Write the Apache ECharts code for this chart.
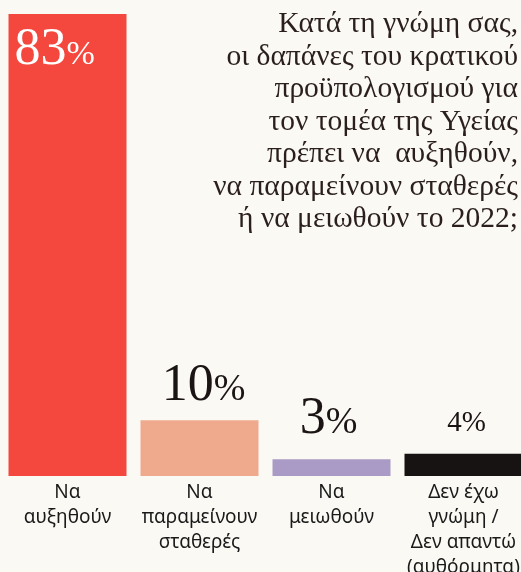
<!DOCTYPE html>
<html>
<head>
<meta charset="utf-8">
<script src="https://cdn.jsdelivr.net/npm/echarts@6/dist/echarts.min.js"></script>
<style>
  html, body { margin: 0; padding: 0; background: #faf9f4; }
  #chart { width: 521px; height: 572px; }
</style>
</head>
<body>
<div id="chart"></div>
<script>
// τιμές διαβασμένες από την εικόνα
var categories = ['Να\nαυξηθούν', 'Να\nπαραμείνουν\nσταθερές', 'Να\nμειωθούν', 'Δεν έχω\nγνώμη /\nΔεν απαντώ\n(αυθόρμητα)']
var values = [83, 10, 3, 4]
var barColors = ['#f4483e', '#efaa8d', '#a99bc6', '#171313']
var titleText = 'Κατά τη γνώμη σας,\nοι δαπάνες του κρατικού\nπροϋπολογισμού για\nτον τομέα της Υγείας\nπρέπει να  αυξηθούν,\nνα παραμείνουν σταθερές\nή να μειωθούν το 2022;'

var serif = '"Liberation Serif", "DejaVu Serif", serif'

function pctRich (color, big, small) {
  return {
    n: { fontFamily: serif, fontSize: big, color: color, verticalAlign: 'bottom', lineHeight: big + 4 },
    p: { fontFamily: serif, fontSize: small, color: color, verticalAlign: 'bottom', lineHeight: big + 4, padding: [0, 0, Math.round((big - small) * 0.2), 0] }
  }
}

var labelCfg = [
  { show: true, position: 'insideTopLeft', distance: 6, rich: pctRich('#ffffff', 52, 34) },
  { show: true, position: 'top', distance: 8, offset: [4, 0], rich: pctRich('#1a1414', 52, 38) },
  { show: true, position: 'top', distance: 14, offset: [-3, 0], rich: pctRich('#1a1414', 52, 38) },
  { show: true, position: 'top', distance: 16, offset: [3, 0], rich: pctRich('#1a1414', 29, 29) }
]

var seriesData = values.map(function (v, i) {
  return {
    value: v,
    itemStyle: { color: barColors[i] },
    label: Object.assign({ formatter: '{n|{c}}{p|%}' }, labelCfg[i])
  }
})

var myChart = echarts.init(document.getElementById('chart'))
var option = {
  backgroundColor: '#faf9f4',
  animation: false,
  graphic: [
    {
      type: 'text',
      x: 518,
      y: 8,
      style: {
        text: titleText,
        align: 'right',
        verticalAlign: 'top',
        fontFamily: serif,
        fontSize: 29.5,
        lineHeight: 32.5,
        fill: '#2a1f1d'
      }
    }
  ],
  grid: { left: 1.5, top: 14, width: 528, bottom: 96, outerBoundsMode: 'none' },
  xAxis: {
    type: 'category',
    data: categories,
    axisLine: { show: false },
    axisTick: { show: false },
    axisLabel: {
      interval: 0,
      margin: 4,
      fontFamily: '"Noto Sans", sans-serif',
      fontSize: 19,
      lineHeight: 25,
      color: '#1a1a1a'
    }
  },
  yAxis: {
    type: 'value',
    min: 0,
    max: 83,
    show: false
  },
  series: [
    {
      type: 'bar',
      barWidth: 118,
      data: seriesData
    }
  ]
}
myChart.setOption(option, true)
</script>
</body>
</html>
